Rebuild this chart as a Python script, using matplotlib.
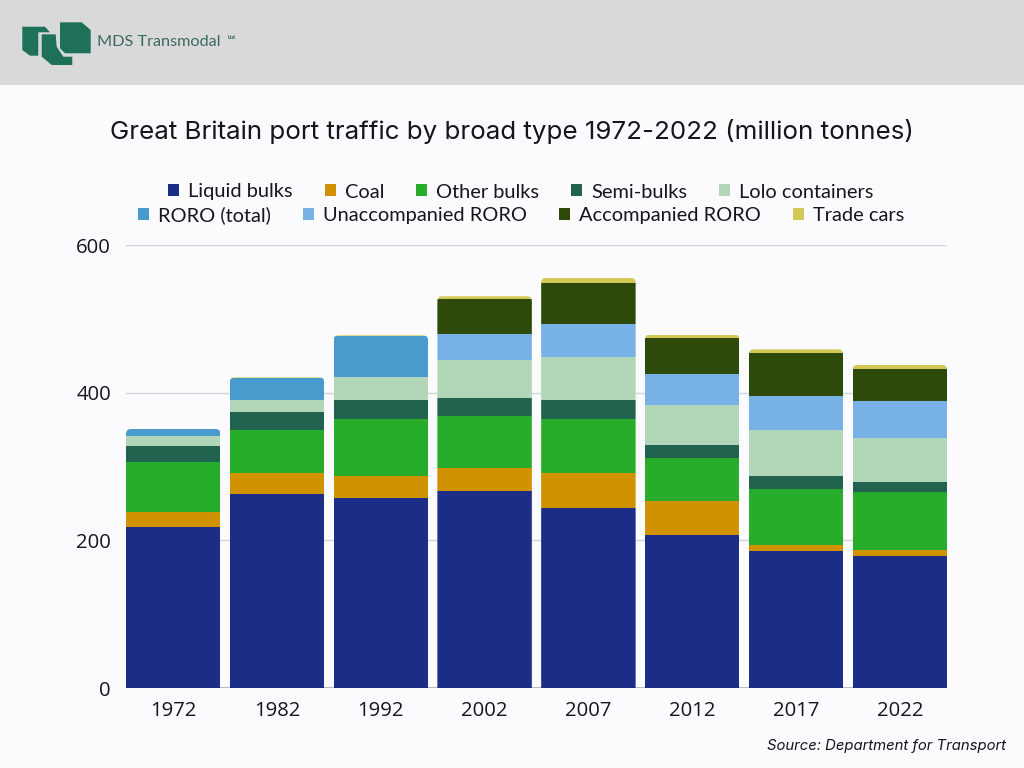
import matplotlib
matplotlib.use("Agg")
import matplotlib.pyplot as plt
from matplotlib.patches import FancyBboxPatch, Patch, Polygon, Rectangle
import numpy as np

years = ["1972", "1982", "1992", "2002", "2007", "2012", "2017", "2022"]
liquid_bulks = [218, 263, 258, 267, 244, 208, 186, 179]
coal = [20, 28, 29, 31, 47, 45, 8, 8]
other_bulks = [68, 59, 77, 70, 74, 59, 76, 78]
semi_bulks = [22, 24, 26, 25, 26, 18, 17, 14]
lolo_containers = [13, 17, 32, 51, 58, 53, 62, 60]
roro_total = [10, 29, 55, 0, 0, 0, 0, 0]
unaccompanied_roro = [0, 0, 0, 36, 44, 42, 47, 50]
accompanied_roro = [0, 0, 0, 47, 56, 49, 58, 44]
trade_cars = [0, 1, 1, 4, 7, 5, 5, 5]

series_names = ["Liquid bulks", "Coal", "Other bulks", "Semi-bulks", "Lolo containers",
                "RORO (total)", "Unaccompanied RORO", "Accompanied RORO", "Trade cars"]
series_values = [liquid_bulks, coal, other_bulks, semi_bulks, lolo_containers,
                 roro_total, unaccompanied_roro, accompanied_roro, trade_cars]
series_colors = ["#1b2d87", "#d09200", "#27ac2b", "#22634f", "#b2d7b8",
                 "#4a9bcd", "#78b1e6", "#2d4a0a", "#d2c957"]

TXT = "#15151c"
W, H = 1024, 768
fig = plt.figure(figsize=(W / 100, H / 100), dpi=100, facecolor="#fbfbfe")

# header band with logo
fig.add_artist(Rectangle((0, 1 - 85 / H), 1, 85 / H, transform=fig.transFigure,
                         facecolor="#d9d9d9", edgecolor="none"))


def px(points):
    return [(x / W, 1 - y / H) for x, y in points]


logo = "#1e7058"
for shape in (
    [(22.3, 26.7), (45, 26.7), (50, 32.3), (38.3, 32.3), (38.3, 55.7), (30, 55.7), (22.3, 50)],
    [(41.7, 34.3), (55.7, 34.3), (56.7, 46.7), (63.3, 56.7), (72.3, 56.7), (72.3, 65),
     (51.7, 65), (41.7, 56.7)],
    [(60, 22.3), (81.7, 22.3), (90.7, 30), (90.7, 53.3), (65, 53.3), (60, 48.3)],
):
    fig.add_artist(Polygon(px(shape), closed=True, transform=fig.transFigure,
                           facecolor=logo, edgecolor="none"))
fig.text(97 / W, 1 - 41.5 / H, "MDS Transmodal", color="#3a6a63", fontsize=11.7,
         family="Lato", va="center", ha="left")
fig.text(228 / W, 1 - 37.5 / H, "Ltd", color="#3a6a63", fontsize=3.4,
         family="Open Sans", weight="bold", va="center", ha="left")

# title
fig.text(511.5 / W, 1 - 131 / H, "Great Britain port traffic by broad type 1972-2022 (million tonnes)",
         color=TXT, fontsize=18.7, family="Inter", va="center", ha="center")

# axes
ax = fig.add_axes([126 / W, 1 - 688 / H, (947 - 126) / W, (688 - 245.3) / H])
ax.set_facecolor("none")
ax.set_xlim(-0.455, 7.455)
ax.set_ylim(0, 600)
for s in ax.spines.values():
    s.set_visible(False)
ax.set_axisbelow(True)
ax.yaxis.grid(True, color="#d4d4da", linewidth=1)
ax.xaxis.grid(False)
ax.axhline(0, color="#aeb0ba", linewidth=1.2, zorder=1)
ax.set_yticks([0, 200, 400, 600])
ax.set_xticks(range(len(years)), years)
ax.tick_params(length=0)
ax.tick_params(axis="x", pad=9.5, labelsize=14.6, labelcolor=TXT)
ax.tick_params(axis="y", pad=10.8, labelsize=14.6, labelcolor=TXT)
for t in ax.get_xticklabels() + ax.get_yticklabels():
    t.set_fontfamily("Open Sans")

# stacked bars, with the top corners of each stack rounded by a clip shape
x = np.arange(len(years))
width = 0.91
bottom = np.zeros(len(years))
containers = []
for vals, color in zip(series_values, series_colors):
    vals = np.array(vals, dtype=float)
    containers.append(ax.bar(x, vals, width=width, bottom=bottom, color=color,
                             linewidth=0, zorder=2))
    bottom += vals

radius_px = 5
x_unit = 103.8       # pixels per category
y_unit = (688 - 245.3) / 600
for i, total in enumerate(bottom):
    clip = FancyBboxPatch((x[i] - width / 2, -40), width, total + 40,
                          boxstyle=f"round,pad=0,rounding_size={radius_px / x_unit}",
                          mutation_aspect=(radius_px / y_unit) / (radius_px / x_unit),
                          transform=ax.transData, facecolor="none", edgecolor="none")
    ax.add_patch(clip)
    for c in containers:
        c[i].set_clip_path(clip)

# two-row legend
handles = [Patch(facecolor=c, edgecolor="none") for c in series_colors]
props = dict(frameon=False, handlelength=0.55, handleheight=0.55,
             handletextpad=0.45, columnspacing=1.6, borderpad=0, borderaxespad=0,
             loc="center", labelcolor=TXT, prop={"family": "Lato", "size": 14.4})
leg1 = fig.legend(handles[:5], series_names[:5], ncols=5,
                  bbox_to_anchor=(521 / W, 1 - 192 / H), **props)
leg2 = fig.legend(handles[5:], series_names[5:], ncols=4,
                  bbox_to_anchor=(521 / W, 1 - 215 / H), **props)

# source
fig.text(1006 / W, 1 - 746 / H, "Source: Department for Transport", color=TXT, fontsize=10.7,
         family="Inter", style="italic", va="center", ha="right")

fig.savefig("out.png", dpi=100, facecolor=fig.get_facecolor())
